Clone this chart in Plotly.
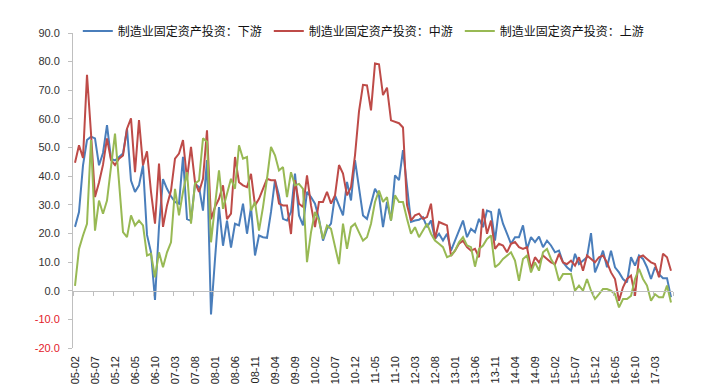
import pandas as pd
import plotly.graph_objects as go

months = list(pd.date_range("2005-02-01", periods=150, freq="MS").strftime("%y-%m"))

downstream = [22.3, 27.5, 43.8, 52.6, 53.8, 53.2, 43.8, 48.1, 57.8, 46.1,
              45.5, 46.7, 47.9, 56.6, 38.5, 34.5, 36.8, 43.8, 19.5, 13.4,
              -3.2, 22.4, 39.0, 35.6, 33.0, 31.0, 30.4, 46.8, 25.0, 24.4,
              37.3, 36.2, 28.0, 45.6, -8.3, 11.0, 29.2, 15.7, 24.5, 15.1,
              23.4, 22.8, 30.4, 19.9, 29.2, 12.3, 19.3, 18.7, 18.5, 27.5,
              38.6, 33.3, 25.1, 24.5, 27.5, 40.9, 26.3, 22.8, 34.5, 32.7,
              30.4, 25.1, 17.5, 21.6, 23.4, 33.3, 29.8, 26.3, 38.0, 31.5,
              45.6, 35.6, 26.3, 25.1, 30.4, 35.6, 33.3, 22.2, 31.0, 24.5,
              40.3, 38.6, 49.1, 37.4, 24.0, 24.5, 24.8, 25.7, 22.2, 24.5,
              18.1, 19.9, 17.5, 19.9, 14.0, 17.5, 21.0, 24.5, 18.7, 21.6,
              20.4, 25.1, 22.2, 28.0, 27.5, 17.5, 28.6, 23.4, 19.9, 16.4,
              18.7, 18.7, 22.8, 14.6, 18.7, 17.0, 18.9, 15.2, 17.5, 15.8,
              13.4, 14.0, 9.9, 8.2, 7.0, 12.9, 9.3, 10.5, 11.7, 20.1,
              6.4, 9.9, 14.0, 8.2, 14.0, 8.2, 6.4, 4.1, 2.9, 11.7,
              8.8, 12.3, 11.1, 8.2, 4.1, 8.2, 5.8, 4.4, 4.4, -2.3]

midstream = [44.7, 50.8, 46.4, 75.4, 55.0, 32.7, 37.8, 44.0, 53.2, 45.6,
             43.9, 46.1, 47.2, 56.6, 60.2, 41.4, 59.6, 43.8, 48.7, 34.5,
             23.4, 44.4, 22.3, 29.8, 35.0, 46.1, 47.9, 52.6, 39.1, 50.2,
             37.9, 34.5, 39.1, 56.0, 25.0, 29.2, 32.1, 36.8, 25.0, 26.9,
             46.7, 37.9, 36.8, 36.2, 40.8, 29.8, 32.1, 35.6, 39.1, 38.6,
             38.6, 30.4, 29.8, 29.8, 19.8, 38.6, 30.4, 29.2, 40.3, 29.8,
             22.2, 31.0, 31.0, 34.5, 30.4, 33.3, 43.9, 40.9, 33.3, 36.2,
             47.3, 62.6, 71.9, 71.7, 63.0, 79.4, 79.1, 68.3, 70.9, 59.5,
             59.0, 58.5, 57.0, 30.0, 24.5, 26.3, 26.9, 25.1, 25.7, 30.4,
             18.1, 24.0, 23.4, 22.8, 12.2, 14.0, 16.4, 17.5, 15.2, 14.0,
             14.6, 11.7, 28.6, 19.9, 24.5, 14.6, 16.4, 15.8, 13.4, 16.4,
             17.0, 15.2, 14.6, 15.2, 7.6, 11.7, 9.9, 12.3, 11.1, 9.9,
             9.3, 12.9, 9.9, 9.3, 10.5, 8.8, 11.7, 7.0, 12.3, 11.1,
             9.9, 11.7, 12.3, 9.9, 6.4, 4.1, -3.5, 1.2, 4.1, 5.3,
             -1.8, 11.7, 12.3, 11.1, 9.9, 9.3, 4.7, 12.9, 11.7, 7.0]

upstream = [1.7, 14.6, 19.3, 23.4, 52.6, 21.0, 31.5, 26.9, 31.5, 44.4,
            54.9, 38.0, 20.5, 18.7, 26.3, 22.8, 24.5, 22.8, 12.3, 12.9,
            4.7, 13.4, 8.2, 13.4, 16.9, 35.6, 26.3, 34.5, 41.4, 23.4,
            37.4, 38.5, 53.2, 52.0, 16.9, 29.8, 42.0, 28.6, 33.9, 39.1,
            35.6, 50.8, 46.1, 46.7, 28.0, 31.0, 21.0, 29.2, 39.1, 50.2,
            47.3, 42.0, 43.2, 32.7, 41.4, 36.8, 37.3, 35.6, 10.0, 20.4,
            27.5, 24.5, 18.1, 22.8, 21.6, 15.8, 9.3, 23.4, 14.6, 22.2,
            23.4, 20.4, 17.5, 18.7, 23.4, 31.0, 35.0, 31.0, 32.7, 24.5,
            33.3, 31.0, 31.0, 25.1, 19.9, 22.2, 18.7, 21.0, 23.4, 19.9,
            17.5, 16.4, 15.2, 11.7, 12.3, 14.0, 16.9, 18.7, 15.8, 15.2,
            8.4, 14.6, 15.8, 18.1, 19.3, 8.2, 9.3, 11.1, 12.3, 13.4,
            10.5, 3.5, 11.1, 12.3, 6.4, 9.9, 7.0, 13.4, 14.6, 11.1,
            8.8, 3.5, 5.8, 5.8, 5.8, 0.0, 1.8, 0.0, 4.1, 0.0,
            -2.9, -1.2, 0.6, 0.6, 0.0, -1.2, -5.8, -2.9, -2.9, -1.8,
            4.1, 7.6, 4.1, 1.8, -3.5, -1.2, -2.3, -2.3, 1.8, -4.1]

series_names = ["制造业固定资产投资：下游", "制造业固定资产投资：中游", "制造业固定资产投资：上游"]
series_colors = ["#4a7ebb", "#be4b48", "#98b954"]

y_tickvals = list(range(-20, 91, 10))
y_ticktext = [(f'<span style="color:#e3202a">{v:.1f}</span>' if v < 0 else f"{v:.1f}") for v in y_tickvals]

fig = go.Figure()
for name, vals, col in zip(series_names, [downstream, midstream, upstream], series_colors):
    fig.add_trace(go.Scatter(x=months, y=vals, mode="lines", name=name,
                             line=dict(color=col, width=2)))

fig.update_layout(
    width=704, height=390,
    margin=dict(l=65, r=39, t=25, b=50, autoexpand=False),
    paper_bgcolor="white", plot_bgcolor="white",
    font=dict(family="Liberation Sans, Arial, sans-serif", size=11, color="#222"),
    showlegend=True,
    legend=dict(orientation="h", x=0.008, xanchor="left", y=1.052, yanchor="top",
                entrywidth=146, entrywidthmode="pixels",
                font=dict(family="Noto Sans CJK SC", size=12, color="#111"),
                bgcolor="rgba(0,0,0,0)"),
    xaxis=dict(type="category", range=[-0.5, 149.5], tickmode="linear", tick0=0, dtick=5,
               tickson="boundaries", ticks="outside", ticklen=4, tickcolor="#bfbfbf",
               tickangle=-90, anchor="free", position=20 / 110,
               showline=True, linecolor="#bfbfbf", linewidth=1, showgrid=False,
               ticklabelstandoff=60, tickfont=dict(size=11, color="#222")),
    yaxis=dict(range=[-20, 90], tickmode="array", tickvals=y_tickvals, ticktext=y_ticktext,
               ticks="outside", ticklen=4, tickcolor="#bfbfbf", showline=True,
               linecolor="#bfbfbf", linewidth=1, showgrid=False, zeroline=False,
               ticklabelstandoff=6, tickfont=dict(size=11, color="#333")),
)

fig.write_html("out.html")
